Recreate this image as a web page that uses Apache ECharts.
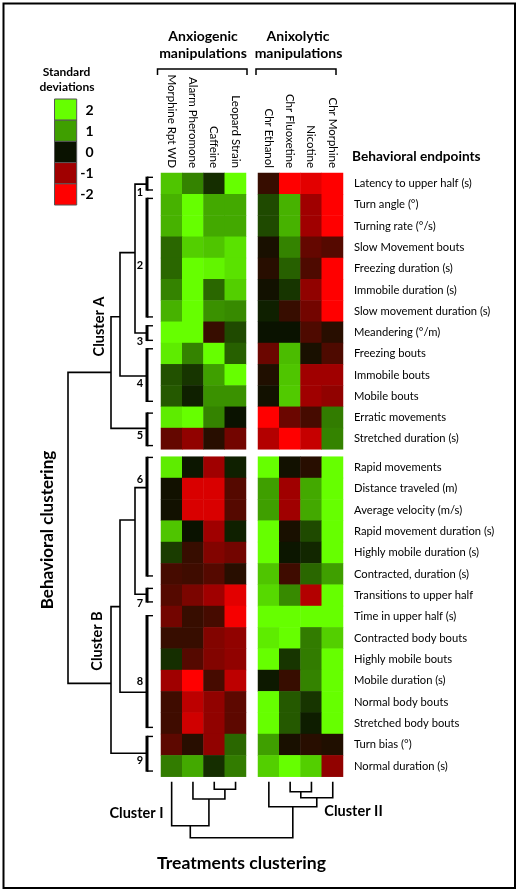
<!DOCTYPE html>
<html><head><meta charset="utf-8">
<script src="https://cdn.jsdelivr.net/npm/echarts@6.0.0/dist/echarts.min.js"></script>
<style>html,body{margin:0;padding:0;background:#fff}#c{width:519px;height:892px}</style>
</head><body><div id="c"></div>
<script>
// ---------------- data ----------------
const anxiogenic = ['Morphine Rpt WD', 'Alarm Pheromone', 'Caffeine', 'Leopard Strain'];
const anxiolytic = ['Chr Ethanol', 'Chr Fluoxetine', 'Nicotine', 'Chr Morphine'];
const endpointsA = ['Latency to upper half (s)', 'Turn angle (°)', 'Turning rate (°/s)', 'Slow Movement bouts',
  'Freezing duration (s)', 'Immobile duration (s)', 'Slow movement duration (s)', 'Meandering (°/m)',
  'Freezing bouts', 'Immobile bouts', 'Mobile bouts', 'Erratic movements', 'Stretched duration (s)'];
const endpointsB = ['Rapid movements', 'Distance traveled (m)', 'Average velocity (m/s)', 'Rapid movement duration (s)',
  'Highly mobile duration (s)', 'Contracted, duration (s)', 'Transitions to upper half', 'Time in upper half (s)',
  'Contracted body bouts', 'Highly mobile bouts', 'Mobile duration (s)', 'Normal body bouts', 'Stretched body bouts',
  'Turn bias (°)', 'Normal duration (s)'];

// standard deviations, rows = endpoints, cols = treatments
const anxiogenicClusterA = [
  [1.4, 0.8, 0.2, 2], [1.2, 2, 1.1, 1.1], [1.2, 2, 1.1, 1.1], [0.6, 1.5, 1.4, 1.7],
  [0.6, 2, 1.9, 1.7], [0.8, 2, 0.6, 1.5], [1.2, 2, 0.9, 0.85], [2, 2, -0.3, 0.4],
  [1.8, 0.8, 2, 0.55], [0.45, 0.25, 1, 2], [0.5, 0.1, 0.9, 0.9], [1.8, 2, 0.8, 0],
  [-0.6, -0.9, -0.2, -0.7]];
const anxiolyticClusterA = [
  [-0.3, -2, -1.7, -2], [0.4, 1.2, -1, -2], [0.4, 1.2, -1, -2], [-0.1, 0.8, -0.6, -0.5],
  [-0.2, 0.55, -0.45, -2], [-0.05, 0.25, -0.9, -2], [0.1, -0.3, -0.7, -2], [0, 0, -0.45, -0.2],
  [-0.65, 1.3, -0.1, -0.45], [-0.15, 1.4, -1, -1], [-0.05, 1.45, -1, -0.9], [-2, -0.65, -0.4, 0.75],
  [-1.2, -2, -1.4, 0.8]];
const anxiogenicClusterB = [
  [1.8, 0.03, -1, 0.1], [-0.05, -1.6, -1.6, -0.5], [-0.05, -1.6, -1.6, -0.5], [1.4, 0, -1, 0.1],
  [0.3, -0.3, -0.8, -0.7], [-0.4, -0.35, -0.5, -0.2], [-0.5, -0.75, -1, -1.7], [-0.7, -0.3, -0.4, -1.9],
  [-0.3, -0.3, -0.8, -0.9], [0.2, -0.5, -0.8, -0.9], [-1, -2, -0.4, -1.3], [-0.35, -1.3, -0.9, -0.55],
  [-0.35, -1.5, -0.9, -0.55], [-0.55, -0.2, -0.9, 0.6], [0.75, 1.1, 0.2, 0.75]];
const anxiolyticClusterB = [
  [2, -0.05, -0.2, 2], [1, -1, 1.1, 2], [1, -1, 1.1, 2], [2, -0.1, 0.4, 2],
  [2, 0.03, 0.15, 2], [1.4, -0.35, 0.6, 1], [1.6, 0.85, -1.2, 2], [2, 2, 2, 2],
  [1.8, 2, 0.75, 1.5], [2, 0.25, 0.75, 2], [0.05, -0.3, 0.8, 2], [2, 0.5, 0.25, 2],
  [2, 0.5, 0.08, 2], [1, -0.1, -0.2, -0.15], [1.5, 2, 1.5, -0.9]];

const legendTicks = ['2', '1', '0', '-1', '-2'];
const legendColors = ['#66ff00', '#3f9f00', '#0a1200', '#a00000', '#ff0000'];

// behavioural sub-clusters: [label, startRow, endRow, attachRow, labelRow]  (rows in unified row units)
const rowGroups = [
  ['1', 0.17, 0.83, 0.52, 0.89], ['2', 1.16, 6.79, null, 4.35], ['3', 7.14, 7.89, 7.51, 7.92],
  ['4', 8.22, 10.75, 9.53, 9.86], ['5', 11.24, 12.83, 11.99, 12.34], ['6', 13.32, 18.95, 14.77, 14.41],
  ['7', 19.47, 20.17, 19.78, 20.2], ['8', 20.75, 26.06, 24.38, 23.88], ['9', 26.42, 28.11, 27.24, 27.59]];
// row dendrogram merges: [childA, childB, height, attachRow]
const rowLinks = [['g1', 'g3', 12, 3.74], ['n0', 'g4', 27, 6.75], ['n1', 'g5', 36, 9.36],
  ['g6', 'g7', 12, 16.29], ['n3', 'g8', 27, 20.36], ['n4', 'g9', 36, 23.96], ['n2', 'n5', 79, null]];
// treatment dendrogram merges: [childA, childB, height]  (c0..c3 anxiogenic, c4..c7 anxiolytic)
const colLinks = [['c2', 'c3', 7.6], ['c1', 'n0', 17.3], ['c0', 'n1', 44],
  ['c5', 'c6', 10], ['n3', 'c7', 16], ['c4', 'n4', 25], ['n2', 'n5', 56]];

// ---------------- build ----------------
const FONT = 'Lato';
function toCells(m) { const out = []; m.forEach((r, ri) => r.forEach((v, ci) => out.push([ci, ri, v]))); return out; }

const rowNodes = {};
rowGroups.forEach(g => { rowNodes['g' + g[0]] = { level: 0, y: g[3] }; });
const rowDendro = rowLinks.map((l, i) => {
  const a = rowNodes[l[0]], b = rowNodes[l[1]];
  rowNodes['n' + i] = { level: l[2], y: l[3] };
  return [l[2], a.y, b.y, a.level, b.level];
});

const gapCols = 12 / 21.3;
const colNodes = {};
for (let i = 0; i < 8; i++) colNodes['c' + i] = { level: 0, x: (i < 4 ? i + 0.5 : 4 + gapCols + (i - 4) + 0.5) };
const colDendro = colLinks.map((l, i) => {
  const a = colNodes[l[0]], b = colNodes[l[1]];
  colNodes['n' + i] = { level: l[2], x: (a.x + b.x) / 2 };
  return [a.x, b.x, l[2], a.level, b.level];
});

const rowUnit = 21.3;
const gridsHeat = [
  { left: 161, top: 173, width: 85, height: 276.3 },
  { left: 258, top: 173, width: 85, height: 276.3 },
  { left: 161, top: 456.7, width: 85, height: 320 },
  { left: 258, top: 456.7, width: 85, height: 320 }];
const grids = gridsHeat.concat([
  { left: 47, top: 173, width: 100, height: 603.7 },
  { left: 161, top: 781.7, width: 182, height: 56 }]).map(g => Object.assign({ outerBoundsMode: 'none', containLabel: false }, g));

const hide = { axisLine: { show: false }, axisTick: { show: false }, splitLine: { show: false } };
const xAxes = [0, 1, 2, 3].map(i => Object.assign({
  type: 'category', gridIndex: i, data: i % 2 === 0 ? anxiogenic : anxiolytic,
  position: 'top',
  axisLabel: { show: i < 2, interval: 0, rotate: 90, fontSize: 11.5, fontFamily: FONT, color: '#000', margin: 5 }
}, hide));
xAxes.push(Object.assign({ type: 'value', gridIndex: 4, min: 0, max: 100, inverse: true, show: false }, hide));
xAxes.push(Object.assign({ type: 'value', gridIndex: 5, min: 0, max: 182 / 21.3, show: false }, hide));

const yAxes = [0, 1, 2, 3].map(i => Object.assign({
  type: 'category', gridIndex: i, data: i < 2 ? endpointsA : endpointsB, inverse: true,
  position: 'right',
  axisLabel: { show: i % 2 === 1, interval: 0, fontSize: 11.2, fontFamily: FONT, color: '#000', margin: 11 }
}, hide));
yAxes.push(Object.assign({ type: 'value', gridIndex: 4, min: 0, max: 603.7 / rowUnit, inverse: true, show: false }, hide));
yAxes.push(Object.assign({ type: 'value', gridIndex: 5, min: 0, max: 56, inverse: true, show: false }, hide));

const blocks = [anxiogenicClusterA, anxiolyticClusterA, anxiogenicClusterB, anxiolyticClusterB];
const series = blocks.map((m, i) => ({
  type: 'heatmap', xAxisIndex: i, yAxisIndex: i, data: toCells(m),
  itemStyle: { borderWidth: 0 }, emphasis: { disabled: true }, progressive: 0
}));

series.push({
  type: 'custom', xAxisIndex: 4, yAxisIndex: 4, clip: false, silent: true, data: rowDendro,
  renderItem(params, api) {
    const l = api.value(0), ya = api.value(1), yb = api.value(2), la = api.value(3), lb = api.value(4);
    return { type: 'polyline', shape: { points: [api.coord([la, ya]), api.coord([l, ya]), api.coord([l, yb]), api.coord([lb, yb])] },
      style: { stroke: '#000', lineWidth: 1.6, fill: null } };
  }
});
series.push({
  type: 'custom', xAxisIndex: 4, yAxisIndex: 4, clip: false, silent: true,
  data: rowGroups.map(g => [0, g[1], g[2], g[4], g[0]]),
  renderItem(params, api) {
    const p1 = api.coord([0, api.value(1)]), p2 = api.coord([0, api.value(2)]), pl = api.coord([0, api.value(3)]);
    return { type: 'group', children: [
      { type: 'rect', shape: { x: p1[0] - 1.5, y: p1[1], width: 3, height: p2[1] - p1[1] }, style: { fill: '#000' } },
      { type: 'polyline', shape: { points: [[p1[0], p1[1] + 0.7], [p1[0] + 6, p1[1] + 0.7]] }, style: { stroke: '#000', lineWidth: 1.4, fill: null } },
      { type: 'polyline', shape: { points: [[p2[0], p2[1] - 0.7], [p2[0] + 6, p2[1] - 0.7]] }, style: { stroke: '#000', lineWidth: 1.4, fill: null } },
      { type: 'text', x: pl[0] - 7, y: pl[1], style: { text: api.value(4) + '', font: 'bold 11px ' + FONT, fill: '#000', textAlign: 'center', textVerticalAlign: 'middle' } }
    ] };
  }
});
series.push({
  type: 'custom', xAxisIndex: 5, yAxisIndex: 5, clip: false, silent: true, data: colDendro,
  renderItem(params, api) {
    const xa = api.value(0), xb = api.value(1), l = api.value(2), la = api.value(3), lb = api.value(4);
    return { type: 'polyline', shape: { points: [api.coord([xa, la]), api.coord([xa, l]), api.coord([xb, l]), api.coord([xb, lb])] },
      style: { stroke: '#000', lineWidth: 1.6, fill: null } };
  }
});

function txt(text, x, y, size, opts) {
  return Object.assign({ type: 'text', x, y, silent: true,
    style: { text, font: 'bold ' + size + 'px ' + FONT, fill: '#000', textAlign: 'center', textVerticalAlign: 'middle' } }, opts || {});
}
const graphic = [
  { type: 'rect', shape: { x: 3.5, y: 3.5, width: 511.5, height: 884.5 }, style: { fill: null, stroke: '#000', lineWidth: 2 }, silent: true },
  txt('Anxiogenic', 203, 36, 14), txt('manipulations', 203, 53.5, 14),
  txt('Anixolytic', 298, 36, 14), txt('manipulations', 298.5, 53.5, 14),
  { type: 'polyline', shape: { points: [[157.5, 75], [157.5, 69], [247, 69], [247, 75]] }, style: { stroke: '#000', lineWidth: 1.5, fill: null }, silent: true },
  { type: 'polyline', shape: { points: [[256, 75], [256, 69], [336, 69], [336, 75]] }, style: { stroke: '#000', lineWidth: 1.5, fill: null }, silent: true },
  txt('Standard', 66.5, 72, 12), txt('deviations', 67, 87, 12),
  txt('Behavioral endpoints', 352, 157, 13.7, {}),
  txt('Behavioral clustering', 47.5, 530, 17, { rotation: Math.PI / 2 }),
  txt('Cluster A', 99, 326.5, 14.5, { rotation: Math.PI / 2 }),
  txt('Cluster B', 97.5, 641, 14.5, { rotation: Math.PI / 2 }),
  txt('Cluster I', 136.5, 813, 14.5), txt('Cluster II', 353.5, 811, 14.5),
  txt('Treatments clustering', 241.5, 863, 17.6)
];
graphic[9].style.textAlign = 'left';
legendTicks.forEach((t, i) => {
  graphic.push({ type: 'rect', shape: { x: 54.5, y: 99 + i * 21.2, width: 22.2, height: 21.2 }, style: { fill: legendColors[i], stroke: '#555', lineWidth: 1 }, silent: true });
  graphic.push(txt(t, 93.5, 110 + i * 21.2, 14, {}));
  graphic[graphic.length - 1].style.textAlign = 'right';
});

const chart = echarts.init(document.getElementById('c'), null, { renderer: 'canvas' });
chart.setOption({
  animation: false,
  backgroundColor: '#fff',
  grid: grids, xAxis: xAxes, yAxis: yAxes,
  visualMap: { type: 'continuous', show: false, min: -2, max: 2, seriesIndex: [0, 1, 2, 3],
    inRange: { color: legendColors.slice().reverse() } },
  series, graphic
});
</script></body></html>
